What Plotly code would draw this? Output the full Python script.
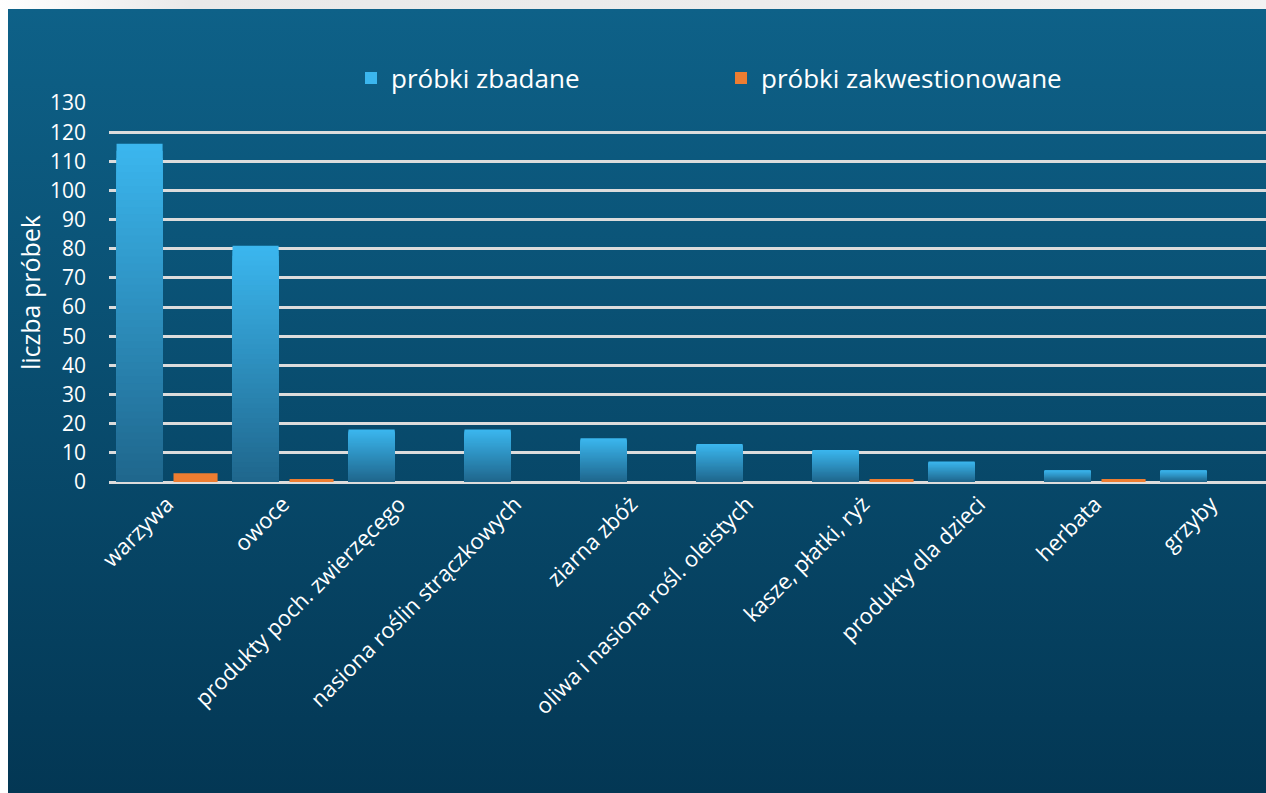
import base64
import plotly.graph_objects as go

# --- data -------------------------------------------------------------
kategorie = [
    "warzywa",
    "owoce",
    "produkty poch. zwierzęcego",
    "nasiona roślin strączkowych",
    "ziarna zbóż",
    "oliwa i nasiona rośl. oleistych",
    "kasze, płatki, ryż",
    "produkty dla dzieci",
    "herbata",
    "grzyby",
]
zbadane = [116, 81, 18, 18, 15, 13, 11, 7, 4, 4]
zakwestionowane = [3, 1, 0, 0, 0, 0, 1, 0, 1, 0]
y_ticks = list(range(0, 131, 10))

# --- page geometry ----------------------------------------------------
W, H = 1266, 793
ML, MR, MT, MB = 109, 0, 103, 311
PW, PH = W - ML - MR, H - MT - MB


def px_x(px):
    return (px - ML) / PW


def px_y(py):
    return (H - MB - py) / PH


def hex_rgb(h):
    h = h.lstrip("#")
    return tuple(int(h[i:i + 2], 16) for i in (0, 2, 4))


def mix(c1, c2, t):
    a, b = hex_rgb(c1), hex_rgb(c2)
    return "rgb({},{},{})".format(*[round(a[i] + (b[i] - a[i]) * t) for i in range(3)])


FONT = "Open Sans"
WHITE = "#ffffff"

fig = go.Figure()

# blue bars with a vertical gradient: overlays of shrinking height
BAR_TOP, BAR_BOTTOM = "#3bb7ef", "#1f668c"
N = 48
for k in range(N):
    frac = (N - k) / N
    mid = (N - k - 0.5) / N
    fig.add_trace(go.Bar(
        x=kategorie,
        y=[v * frac for v in zbadane],
        offset=-0.435,
        width=0.397,
        marker=dict(color=mix(BAR_BOTTOM, BAR_TOP, mid), line=dict(width=0)),
        name="próbki zbadane",
        showlegend=(k == 0),
        legend="legend",
        hoverinfo="skip" if k else None,
    ))

fig.add_trace(go.Bar(
    x=kategorie,
    y=zakwestionowane,
    offset=0.056,
    width=0.38,
    marker=dict(color="#ed7d31", line=dict(width=0)),
    name="próbki zakwestionowane",
    legend="legend2",
))

# page background as an SVG: white page, grey top band, blue gradient panel
bg_svg = f"""<svg xmlns="http://www.w3.org/2000/svg" width="{W}" height="{H}" viewBox="0 0 {W} {H}" preserveAspectRatio="none">
<defs>
<linearGradient id="band" x1="0" y1="0" x2="1" y2="0">
<stop offset="0" stop-color="#ffffff"/><stop offset="0.15" stop-color="#e9e9e9"/>
<stop offset="0.6" stop-color="#ececec"/><stop offset="1" stop-color="#f2f2f2"/>
</linearGradient>
<linearGradient id="panel" x1="0" y1="0" x2="0" y2="1">
<stop offset="0" stop-color="#0e6188"/><stop offset="1" stop-color="#033754"/>
</linearGradient>
</defs>
<rect x="0" y="0" width="{W}" height="{H}" fill="#ffffff"/>
<rect x="0" y="0" width="{W}" height="9" fill="url(#band)"/>
<rect x="8" y="9" width="{W - 8}" height="{H - 9}" fill="url(#panel)"/>
</svg>"""
bg_uri = "data:image/svg+xml;base64," + base64.b64encode(bg_svg.encode("utf-8")).decode("ascii")

legend_common = dict(
    orientation="h", xanchor="left", yanchor="middle",
    bgcolor="rgba(0,0,0,0)", borderwidth=0,
    font=dict(family=FONT, size=26, color=WHITE),
)

fig.update_layout(
    width=W, height=H,
    margin=dict(l=ML, r=MR, t=MT, b=MB, pad=0),
    paper_bgcolor="#ffffff",
    plot_bgcolor="rgba(0,0,0,0)",
    barmode="overlay",
    images=[dict(
        source=bg_uri, xref="paper", yref="paper",
        x=px_x(0), y=px_y(0), sizex=W / PW, sizey=H / PH,
        xanchor="left", yanchor="top", sizing="stretch", layer="below",
    )],
    font=dict(family=FONT, color=WHITE),
    legend=dict(x=px_x(351), y=px_y(78), **legend_common),
    legend2=dict(x=px_x(721), y=px_y(78), **legend_common),
    xaxis=dict(
        type="category",
        range=[-0.5, -0.5 + PW / 116],
        tickangle=-45,
        tickfont=dict(family=FONT, size=22, color=WHITE),
        showgrid=False, showline=False, zeroline=False, ticks="",
        ticklabelstandoff=4,
    ),
    yaxis=dict(
        range=[0, 130],
        tickvals=y_ticks,
        tickfont=dict(family=FONT, size=21, color=WHITE),
        showgrid=True, gridcolor="#dcdcdc", gridwidth=2.5,
        zeroline=True, zerolinecolor="#dcdcdc", zerolinewidth=2.5,
        showline=False, ticks="",
        ticklabelstandoff=22,
        title=dict(text="liczba próbek", font=dict(family=FONT, size=25, color=WHITE), standoff=2),
    ),
)

fig.write_html("out.html")
